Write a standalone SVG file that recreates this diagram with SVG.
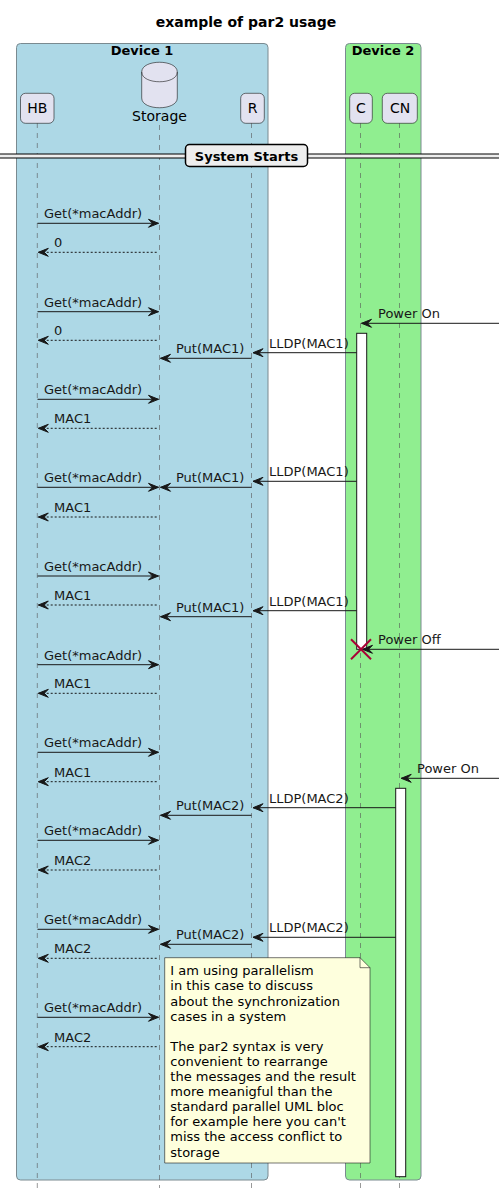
<svg xmlns="http://www.w3.org/2000/svg" width="499" height="1192" viewBox="0 0 499 1192">
<style>
text{font-family:"DejaVu Sans","Liberation Sans",sans-serif;fill:#000}
.t13{font-size:13px}
.t14{font-size:14px}
.b{font-weight:bold}
.life{stroke:#555;stroke-width:0.6;stroke-dasharray:5,5;fill:none}
.part{fill:#E2E2F0;stroke:#181818;stroke-width:0.6}
.msg{stroke:#181818;stroke-width:1;fill:none;marker-end:url(#ah)}
.ret{stroke:#181818;stroke-width:1;fill:none;stroke-dasharray:2,2;marker-end:url(#ah)}
.act{fill:#fff;stroke:#181818;stroke-width:1}
.ml{font-size:13px;fill:#181818}
</style>
<defs>
<marker id="ah" viewBox="-12 -6 13 12" refX="0" refY="0" markerWidth="13" markerHeight="12" markerUnits="userSpaceOnUse" orient="auto">
<path d="M-10,-4 L0,0 L-10,4 L-6,0 Z" fill="#181818" stroke="#181818" stroke-width="1" stroke-linejoin="miter"/>
</marker>
</defs>
<rect width="499" height="1192" fill="#fff"/>
<text x="246" y="27" text-anchor="middle" class="t14 b">example of par2 usage</text>

<g id="device1">
<rect x="16.5" y="43.5" width="251.5" height="1136.5" rx="4" fill="#ADD8E6" stroke="#7a8a90" stroke-width="1"/>
<text x="142" y="55" text-anchor="middle" class="t13 b">Device 1</text>
</g>
<g id="device2">
<rect x="345.5" y="43.5" width="75.5" height="1136.5" rx="4" fill="#90EE90" stroke="#7a8a90" stroke-width="1"/>
<text x="383" y="55" text-anchor="middle" class="t13 b">Device 2</text>
</g>

<g id="lifelines">
<line class="life" x1="37.3" y1="123" x2="37.3" y2="1188"/>
<line class="life" x1="159.5" y1="125" x2="159.5" y2="1188"/>
<line class="life" x1="251.5" y1="123" x2="251.5" y2="1188"/>
<line class="life" x1="360.5" y1="123" x2="360.5" y2="1188"/>
<line class="life" x1="399.5" y1="123" x2="399.5" y2="1188"/>
</g>

<g id="separator">
<rect x="0" y="154" width="499" height="4" fill="#EEEEEE"/>
<line x1="0" y1="154" x2="499" y2="154" stroke="#000" stroke-width="1"/>
<line x1="0" y1="158" x2="499" y2="158" stroke="#000" stroke-width="1"/>
<rect x="185.5" y="144.5" width="122" height="22" rx="4" fill="#EEEEEE" stroke="#000" stroke-width="1.5"/>
<text x="246.5" y="160.5" text-anchor="middle" class="t13 b">System Starts</text>
</g>

<g id="HB">
<rect class="part" x="20.5" y="93.3" width="33.5" height="30" rx="5"/>
<text x="37.3" y="113.3" text-anchor="middle" class="t14">HB</text>
</g>
<g id="Storage">
<path class="part" d="M141.7,72 C141.7,59 177.3,59 177.3,72 L177.3,98 C177.3,111 141.7,111 141.7,98 Z"/>
<path d="M141.7,72 C141.7,85 177.3,85 177.3,72" fill="none" stroke="#181818" stroke-width="0.6"/>
<text x="159.5" y="121" text-anchor="middle" class="t14">Storage</text>
</g>
<g id="R">
<rect class="part" x="240.7" y="93.3" width="23.6" height="30" rx="5"/>
<text x="252.5" y="113.3" text-anchor="middle" class="t14">R</text>
</g>
<g id="C">
<rect class="part" x="349.7" y="93.3" width="22.6" height="30" rx="5"/>
<text x="361" y="113.3" text-anchor="middle" class="t14">C</text>
</g>
<g id="CN">
<rect class="part" x="382.3" y="93.3" width="35" height="30" rx="5"/>
<text x="400" y="113.3" text-anchor="middle" class="t14">CN</text>
</g>

<g id="activations">
<rect class="act" x="356.7" y="333.3" width="10" height="316"/>
<rect class="act" x="395.7" y="788.3" width="10" height="388.4"/>
</g>

<g id="connectors">
<line class="msg" x1="37.5" y1="223.3" x2="158.5" y2="223.3"/><text class="ml" x="44" y="218.3">Get(*macAddr)</text>
<line class="ret" x1="156.7" y1="252.3" x2="38.3" y2="252.3"/><text class="ml" x="54" y="247.3">0</text>
<line class="msg" x1="37.5" y1="311.7" x2="158.5" y2="311.7"/><text class="ml" x="44" y="306.7">Get(*macAddr)</text>
<line class="msg" x1="499" y1="323.3" x2="361.5" y2="323.3"/><text class="ml" x="378" y="318.3">Power On</text>
<line class="ret" x1="156.7" y1="340.3" x2="38.3" y2="340.3"/><text class="ml" x="54" y="335.3">0</text>
<line class="msg" x1="356.7" y1="352.7" x2="253" y2="352.7"/><text class="ml" x="269" y="347.7">LLDP(MAC1)</text>
<line class="msg" x1="251.5" y1="358.3" x2="160.5" y2="358.3"/><text class="ml" x="176" y="353.3">Put(MAC1)</text>
<line class="msg" x1="37.5" y1="399.3" x2="158.5" y2="399.3"/><text class="ml" x="44" y="394.3">Get(*macAddr)</text>
<line class="ret" x1="156.7" y1="428.3" x2="38.3" y2="428.3"/><text class="ml" x="54" y="423.3">MAC1</text>
<line class="msg" x1="356.7" y1="481.3" x2="253" y2="481.3"/><text class="ml" x="269" y="476.3">LLDP(MAC1)</text>
<line class="msg" x1="37.5" y1="487.3" x2="158.5" y2="487.3"/><text class="ml" x="44" y="482.3">Get(*macAddr)</text>
<line class="msg" x1="251.5" y1="487.3" x2="160.5" y2="487.3"/><text class="ml" x="176" y="482.3">Put(MAC1)</text>
<line class="ret" x1="156.7" y1="517" x2="38.3" y2="517"/><text class="ml" x="54" y="512">MAC1</text>
<line class="msg" x1="37.5" y1="576" x2="158.5" y2="576"/><text class="ml" x="44" y="571">Get(*macAddr)</text>
<line class="ret" x1="156.7" y1="605" x2="38.3" y2="605"/><text class="ml" x="54" y="600">MAC1</text>
<line class="msg" x1="356.7" y1="610.7" x2="253" y2="610.7"/><text class="ml" x="269" y="605.7">LLDP(MAC1)</text>
<line class="msg" x1="251.5" y1="616.7" x2="160.5" y2="616.7"/><text class="ml" x="176" y="611.7">Put(MAC1)</text>
<line class="msg" x1="499" y1="649.3" x2="362.5" y2="649.3"/><text class="ml" x="378" y="644.3">Power Off</text>
<line class="msg" x1="37.5" y1="664.7" x2="158.5" y2="664.7"/><text class="ml" x="44" y="659.7">Get(*macAddr)</text>
<line class="ret" x1="156.7" y1="693.3" x2="38.3" y2="693.3"/><text class="ml" x="54" y="688.3">MAC1</text>
<line class="msg" x1="37.5" y1="752.3" x2="158.5" y2="752.3"/><text class="ml" x="44" y="747.3">Get(*macAddr)</text>
<line class="msg" x1="499" y1="778.3" x2="401.2" y2="778.3"/><text class="ml" x="417" y="773.3">Power On</text>
<line class="ret" x1="156.7" y1="781.7" x2="38.3" y2="781.7"/><text class="ml" x="54" y="776.7">MAC1</text>
<line class="msg" x1="395.7" y1="807.7" x2="253" y2="807.7"/><text class="ml" x="269" y="802.7">LLDP(MAC2)</text>
<line class="msg" x1="251.5" y1="815.3" x2="160.5" y2="815.3"/><text class="ml" x="176" y="810.3">Put(MAC2)</text>
<line class="msg" x1="37.5" y1="840.3" x2="158.5" y2="840.3"/><text class="ml" x="44" y="835.3">Get(*macAddr)</text>
<line class="ret" x1="156.7" y1="870" x2="38.3" y2="870"/><text class="ml" x="54" y="865">MAC2</text>
<line class="msg" x1="37.5" y1="929.3" x2="158.5" y2="929.3"/><text class="ml" x="44" y="924.3">Get(*macAddr)</text>
<line class="msg" x1="395.7" y1="937.3" x2="253" y2="937.3"/><text class="ml" x="269" y="932.3">LLDP(MAC2)</text>
<line class="msg" x1="251.5" y1="944.3" x2="160.5" y2="944.3"/><text class="ml" x="176" y="939.3">Put(MAC2)</text>
<line class="ret" x1="156.7" y1="958.3" x2="38.3" y2="958.3"/><text class="ml" x="54" y="953.3">MAC2</text>
<line class="msg" x1="37.5" y1="1017.3" x2="158.5" y2="1017.3"/><text class="ml" x="44" y="1012.3">Get(*macAddr)</text>
<line class="ret" x1="156.7" y1="1046.7" x2="38.3" y2="1046.7"/><text class="ml" x="54" y="1041.7">MAC2</text>
</g>

<g id="destroy-C">
<line x1="351" y1="639.3" x2="371" y2="659.3" stroke="#A80036" stroke-width="2"/>
<line x1="351" y1="659.3" x2="371" y2="639.3" stroke="#A80036" stroke-width="2"/>
</g>

<g id="note">
<path d="M164.7,957.7 L360,957.7 L370,967.7 L370,1163 L164.7,1163 Z" fill="#FEFFDD" stroke="#181818" stroke-width="0.6" stroke-linejoin="round"/>
<path d="M360,957.7 L360,967.7 L370,967.7" fill="none" stroke="#181818" stroke-width="0.6"/>
<text class="t13" fill="#000">
<tspan x="170.3" y="975.3">I am using parallelism</tspan>
<tspan x="170.3" y="990.4">in this case to discuss</tspan>
<tspan x="170.3" y="1005.5">about the synchronization</tspan>
<tspan x="170.3" y="1020.6">cases in a system</tspan>
<tspan x="170.3" y="1050.8">The par2 syntax is very</tspan>
<tspan x="170.3" y="1065.9">convenient to rearrange</tspan>
<tspan x="170.3" y="1081">the messages and the result</tspan>
<tspan x="170.3" y="1096.1">more meanigful than the</tspan>
<tspan x="170.3" y="1111.2">standard parallel UML bloc</tspan>
<tspan x="170.3" y="1126.3">for example here you can't</tspan>
<tspan x="170.3" y="1141.4">miss the access conflict to</tspan>
<tspan x="170.3" y="1156.5">storage</tspan>
</text>
</g>
</svg>
